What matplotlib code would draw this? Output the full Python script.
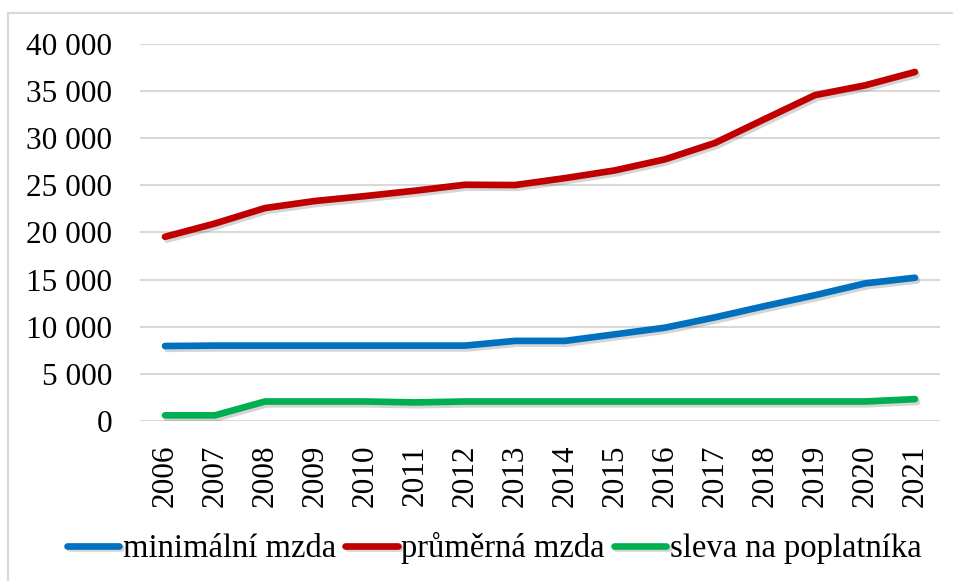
import matplotlib
matplotlib.use("Agg")
import matplotlib.pyplot as plt
import matplotlib.patheffects as pe
from matplotlib.ticker import FuncFormatter
from matplotlib.patches import Rectangle

plt.rcParams['font.family'] = ['Liberation Serif', 'DejaVu Serif']

roky = [str(r) for r in range(2006, 2022)]
minimalni_mzda = [7955, 8000, 8000, 8000, 8000, 8000, 8000, 8500, 8500,
                  9200, 9900, 11000, 12200, 13350, 14600, 15200]
prumerna_mzda = [19546, 20957, 22592, 23344, 23864, 24436, 25067, 25035, 25768,
                 26591, 27764, 29504, 32051, 34578, 35611, 37030]
sleva = [600, 600, 2070, 2070, 2070, 1970, 2070, 2070, 2070,
         2070, 2070, 2070, 2070, 2070, 2070, 2320]

serie = [
    (minimalni_mzda, 'minimální mzda', '#0070C0'),
    (prumerna_mzda, 'průměrná mzda', '#C00000'),
    (sleva, 'sleva na poplatníka', '#00B050'),
]

fig = plt.figure(figsize=(9.54, 5.81), dpi=100)
ax = fig.add_axes([140/954, 1 - 421/581, 800/954, 377/581])

# light frame of the chart area (cut off right and bottom)
fig.patches.append(Rectangle((8/954, -0.1), 1.2, 1 - 13/581 + 0.1,
                             transform=fig.transFigure, fill=False,
                             edgecolor='#D9D9D9', linewidth=1.5))

x = range(len(roky))
stin = [pe.SimpleLineShadow(offset=(1.5, -2), alpha=0.22, shadow_color='#444444'),
        pe.Normal()]
for hodnoty, nazev, barva in serie:
    ax.plot(x, hodnoty, color=barva, linewidth=4.8, label=nazev,
            solid_capstyle='round', solid_joinstyle='round',
            path_effects=stin, zorder=3)

ax.set_xlim(-0.5, len(roky) - 0.5)
ax.set_ylim(0, 40000)
ax.set_yticks(range(0, 40001, 5000))
ax.yaxis.set_major_formatter(FuncFormatter(lambda v, p: f"{int(v):,}".replace(',', ' ')))
ax.set_xticks(list(x))
ax.set_xticklabels(roky, rotation=90)

ax.grid(axis='y', color='#D9D9D9', linewidth=1.5)
ax.set_axisbelow(True)
for s in ax.spines.values():
    s.set_visible(False)
ax.tick_params(axis='both', length=0, labelsize=22.5, colors='black')
ax.tick_params(axis='y', pad=20)
ax.tick_params(axis='x', pad=17)

fig.legend(loc='center', bbox_to_anchor=(0.518, 1 - 548/581), ncol=3,
           frameon=False, fontsize=23.5, handlelength=1.6, handletextpad=0.1,
           columnspacing=0.3, borderaxespad=0)

fig.savefig('out.png', dpi=100, facecolor='white')
